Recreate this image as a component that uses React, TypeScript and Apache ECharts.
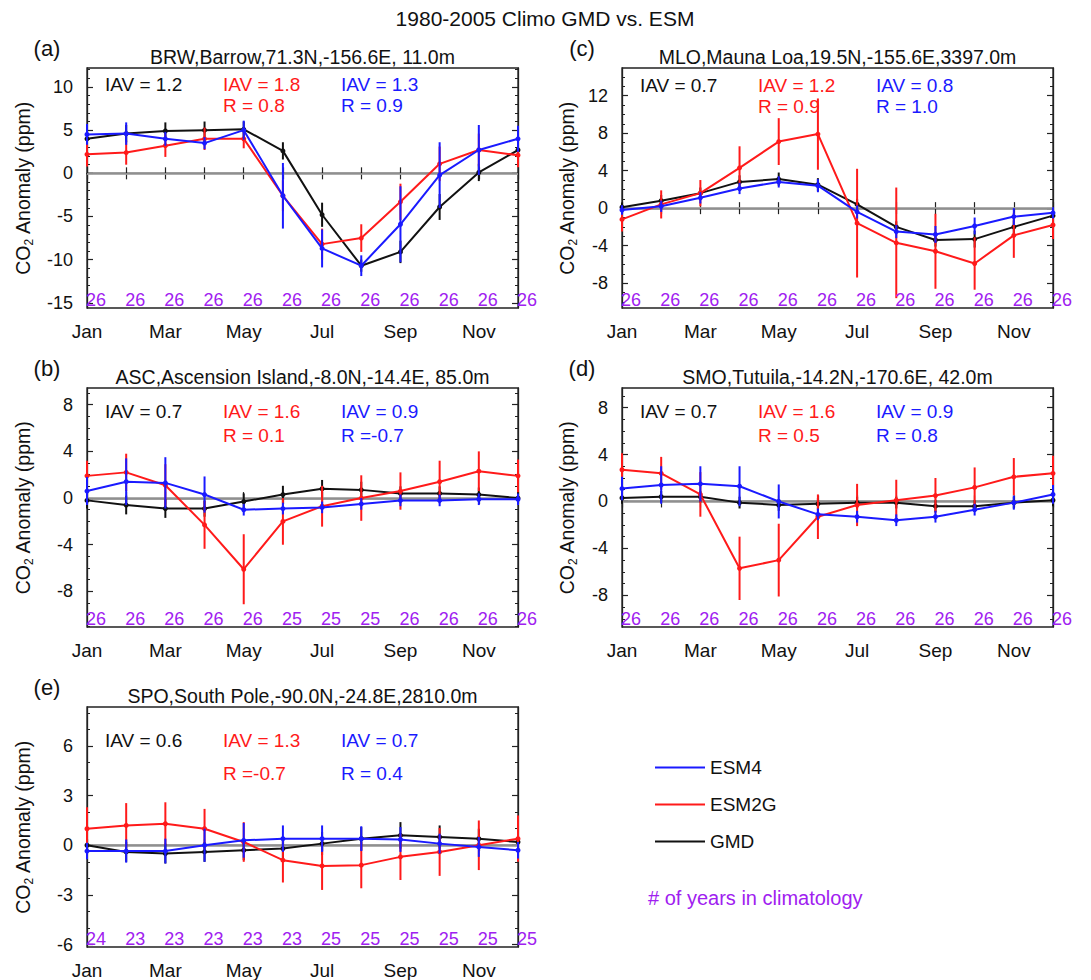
import React, { useEffect, useRef } from "react";
import * as echarts from "echarts";

// ---------- DATA ----------
const months = ["Jan", "Feb", "Mar", "Apr", "May", "Jun", "Jul", "Aug", "Sep", "Oct", "Nov", "Dec"];

// (a) BRW
const brwGMD = [4.0, 4.6, 4.9, 5.0, 5.1, 2.6, -4.8, -10.7, -9.1, -3.9, 0.1, 2.7];
const brwGMDErr = [0.8, 1.0, 1.0, 1.0, 0.9, 1.0, 1.4, 0.7, 1.3, 1.5, 1.0, 0.8];
const brwESM2G = [2.2, 2.4, 3.2, 4.0, 4.0, -2.6, -8.2, -7.5, -3.3, 1.1, 2.7, 2.1];
const brwESM2GErr = [1.4, 1.4, 1.3, 1.3, 1.1, 1.8, 1.8, 1.6, 2.1, 2.0, 1.9, 1.4];
const brwESM4 = [4.5, 4.6, 4.0, 3.5, 5.0, -2.6, -8.7, -10.7, -5.9, -0.2, 2.7, 4.0];
const brwESM4Err = [1.2, 1.3, 0.8, 0.7, 1.1, 3.8, 2.2, 1.2, 4.4, 3.8, 2.9, 1.5];
const brwYears = [26, 26, 26, 26, 26, 26, 26, 26, 26, 26, 26, 26];

// (c) MLO
const mloGMD = [0.1, 0.8, 1.6, 2.8, 3.1, 2.5, 0.4, -2.0, -3.4, -3.3, -2.0, -0.8];
const mloGMDErr = [0.5, 0.6, 0.6, 0.7, 0.7, 0.7, 0.6, 0.6, 0.7, 0.9, 0.7, 0.6];
const mloESM2G = [-1.2, 0.4, 1.6, 4.3, 7.1, 7.9, -1.6, -3.7, -4.6, -5.9, -2.9, -1.8];
const mloESM2GErr = [1.3, 1.5, 1.4, 2.3, 2.5, 3.8, 5.8, 5.9, 4.0, 2.8, 2.4, 1.5];
const mloESM4 = [-0.2, 0.2, 1.1, 2.1, 2.8, 2.4, -0.4, -2.5, -2.8, -1.9, -0.9, -0.5];
const mloESM4Err = [0.5, 0.6, 0.6, 0.6, 0.6, 0.7, 0.7, 0.7, 0.9, 0.9, 0.9, 0.6];
const mloYears = [26, 26, 26, 26, 26, 26, 26, 26, 26, 26, 26, 26];

// (b) ASC
const ascGMD = [-0.2, -0.6, -0.9, -0.9, -0.3, 0.3, 0.8, 0.7, 0.4, 0.4, 0.3, 0.0];
const ascGMDErr = [0.7, 0.8, 0.8, 0.7, 0.7, 0.75, 0.75, 0.7, 0.6, 0.6, 0.6, 0.6];
const ascESM2G = [1.9, 2.2, 1.1, -2.3, -6.1, -2.0, -0.7, 0.0, 0.6, 1.4, 2.3, 1.9];
const ascESM2GErr = [1.3, 1.6, 1.8, 2.05, 3.0, 2.0, 1.75, 1.95, 1.6, 1.8, 1.7, 1.4];
const ascESM4 = [0.6, 1.4, 1.3, 0.3, -1.0, -0.9, -0.8, -0.5, -0.2, -0.2, -0.1, -0.1];
const ascESM4Err = [1.2, 2.0, 2.2, 1.55, 0.5, 0.5, 0.5, 0.5, 0.5, 0.5, 0.5, 0.5];
const ascYears = [26, 26, 26, 26, 26, 25, 25, 25, 26, 26, 26, 26];

// (d) SMO
const smoGMD = [0.3, 0.4, 0.4, -0.1, -0.3, -0.2, -0.1, -0.1, -0.4, -0.4, -0.1, 0.1];
const smoGMDErr = [0.5, 0.5, 0.5, 0.5, 0.5, 0.5, 0.5, 0.5, 0.5, 0.5, 0.5, 0.5];
const smoESM2G = [2.7, 2.4, 0.6, -5.7, -5.0, -1.3, -0.3, 0.1, 0.5, 1.2, 2.1, 2.4];
const smoESM2GErr = [1.4, 1.4, 1.9, 2.7, 3.1, 1.9, 1.8, 1.75, 1.5, 1.7, 1.6, 1.5];
const smoESM4 = [1.1, 1.4, 1.5, 1.3, 0.0, -1.1, -1.3, -1.6, -1.3, -0.7, -0.1, 0.6];
const smoESM4Err = [1.0, 1.6, 1.5, 1.7, 1.45, 0.5, 0.5, 0.5, 0.5, 0.5, 0.6, 0.8];
const smoYears = [26, 26, 26, 26, 26, 26, 26, 26, 26, 26, 26, 26];

// (e) SPO
const spoGMD = [0.0, -0.4, -0.5, -0.4, -0.3, -0.2, 0.1, 0.4, 0.6, 0.5, 0.4, 0.2];
const spoGMDErr = [0.6, 0.6, 0.6, 0.6, 0.6, 0.7, 0.7, 0.7, 0.8, 0.7, 0.6, 0.6];
const spoESM2G = [1.0, 1.2, 1.3, 1.0, 0.2, -0.9, -1.25, -1.2, -0.7, -0.4, 0.0, 0.4];
const spoESM2GErr = [1.3, 1.35, 1.3, 1.2, 1.2, 1.35, 1.45, 1.4, 1.4, 1.45, 1.5, 1.4];
const spoESM4 = [-0.35, -0.35, -0.35, 0.0, 0.3, 0.4, 0.4, 0.4, 0.35, 0.1, -0.1, -0.3];
const spoESM4Err = [0.5, 0.7, 0.75, 1.0, 1.05, 0.8, 0.8, 0.75, 0.75, 0.6, 0.6, 0.5];
const spoYears = [24, 23, 23, 23, 23, 23, 25, 25, 25, 25, 25, 25];

// statistics: [GMD IAV, ESM2G IAV, ESM4 IAV], [ESM2G R, ESM4 R]
const brwIAV = [1.2, 1.8, 1.3];
const brwR = [0.8, 0.9];
const mloIAV = [0.7, 1.2, 0.8];
const mloR = [0.9, 1.0];
const ascIAV = [0.7, 1.6, 0.9];
const ascR = [0.1, -0.7];
const smoIAV = [0.7, 1.6, 0.9];
const smoR = [0.5, 0.8];
const spoIAV = [0.6, 1.3, 0.7];
const spoR = [-0.7, 0.4];

const models = ["ESM4", "ESM2G", "GMD"];

// ---------- STYLE / LAYOUT ----------
const FONT = '"Liberation Sans", Arial, Helvetica, sans-serif';
const BLUE = "#1a1aff";
const RED = "#ff1a1a";
const BLACK = "#111111";
const PURPLE = "#a020f0";

const panels = [
  {
    letter: "(a)", title: "BRW,Barrow,71.3N,-156.6E, 11.0m",
    left: 87, top: 68, width: 431, height: 240, yMin: -15.6, yMax: 12.2,
    major: [-15, -10, -5, 0, 5, 10], nameGap: 52, statY: [16.5, 37.5],
    gmd: brwGMD, gmdErr: brwGMDErr, esm2g: brwESM2G, esm2gErr: brwESM2GErr, esm4: brwESM4, esm4Err: brwESM4Err,
    years: brwYears, iav: brwIAV, r: brwR,
  },
  {
    letter: "(c)", title: "MLO,Mauna Loa,19.5N,-155.6E,3397.0m",
    left: 622, top: 68, width: 431, height: 240, yMin: -10.65, yMax: 14.95,
    major: [-8, -4, 0, 4, 8, 12], nameGap: 43, statY: [17.5, 38.5],
    gmd: mloGMD, gmdErr: mloGMDErr, esm2g: mloESM2G, esm2gErr: mloESM2GErr, esm4: mloESM4, esm4Err: mloESM4Err,
    years: mloYears, iav: mloIAV, r: mloR,
  },
  {
    letter: "(b)", title: "ASC,Ascension Island,-8.0N,-14.4E, 85.0m",
    left: 87, top: 388, width: 431, height: 239, yMin: -11.05, yMax: 9.43,
    major: [-8, -4, 0, 4, 8], nameGap: 52, statY: [23.5, 47],
    gmd: ascGMD, gmdErr: ascGMDErr, esm2g: ascESM2G, esm2gErr: ascESM2GErr, esm4: ascESM4, esm4Err: ascESM4Err,
    years: ascYears, iav: ascIAV, r: ascR,
  },
  {
    letter: "(d)", title: "SMO,Tutuila,-14.2N,-170.6E, 42.0m",
    left: 622, top: 388, width: 431, height: 239, yMin: -10.7, yMax: 9.67,
    major: [-8, -4, 0, 4, 8], nameGap: 43, statY: [23.5, 47],
    gmd: smoGMD, gmdErr: smoGMDErr, esm2g: smoESM2G, esm2gErr: smoESM2GErr, esm4: smoESM4, esm4Err: smoESM4Err,
    years: smoYears, iav: smoIAV, r: smoR,
  },
  {
    letter: "(e)", title: "SPO,South Pole,-90.0N,-24.8E,2810.0m",
    left: 87, top: 707, width: 431, height: 240, yMin: -6.15, yMax: 8.36,
    major: [-6, -3, 0, 3, 6], nameGap: 52, statY: [33, 66.5],
    gmd: spoGMD, gmdErr: spoGMDErr, esm2g: spoESM2G, esm2gErr: spoESM2GErr, esm4: spoESM4, esm4Err: spoESM4Err,
    years: spoYears, iav: spoIAV, r: spoR,
  },
];

function minorTicks(lo: number, hi: number) {
  const out: number[] = [];
  for (let v = Math.ceil(lo); v <= Math.floor(hi); v++) out.push(v);
  return out;
}

const fmtIAV = (v: number) => `IAV = ${v.toFixed(1)}`;
const fmtR = (v: number) => (v < 0 ? `R =${v.toFixed(1)}` : `R = ${v.toFixed(1)}`);

function txt(x: number, y: number, text: string, size: number, color: string, align = "center", extra: any = {}) {
  return {
    type: "text", x, y,
    style: {
      text, font: `${size}px ${FONT}`, fill: color,
      align, verticalAlign: "middle", textAlign: align, textVerticalAlign: "middle", ...extra,
    },
  };
}

function buildOption() {
  const grid: any[] = [];
  const xAxis: any[] = [];
  const yAxis: any[] = [];
  const series: any[] = [];
  const graphic: any[] = [];

  graphic.push(txt(545, 18, "1980-2005 Climo GMD vs. ESM", 21, "#111"));

  panels.forEach((p, i) => {
    grid.push({ left: p.left, top: p.top, width: p.width, height: p.height, show: true, borderColor: "#222", borderWidth: 1.3, backgroundColor: "transparent" });
    const xBase = {
      type: "value", gridIndex: i, min: 1, max: 12, interval: 1,
      axisLine: { show: true, lineStyle: { color: "#222", width: 1.3 } },
      axisTick: { show: true, inside: true, length: 6, lineStyle: { color: "#222", width: 1.2 } },
      splitLine: { show: false },
    };
    xAxis.push({
      ...xBase, position: "bottom",
      axisLabel: {
        show: true, margin: 14, color: "#111", fontSize: 19, fontFamily: FONT,
        formatter: (v: number) => (Math.round(v) % 2 === 1 ? months[Math.round(v) - 1] : ""),
      },
    });
    xAxis.push({ ...xBase, position: "top", axisLabel: { show: false } });

    const minors = minorTicks(p.yMin, p.yMax);
    const yBase = { type: "value", gridIndex: i, min: p.yMin, max: p.yMax, splitLine: { show: false } };
    yAxis.push({
      ...yBase, position: "left",
      axisLine: { show: true, lineStyle: { color: "#222", width: 1.3 } },
      axisTick: { show: true, inside: true, length: 6, customValues: p.major, lineStyle: { color: "#222", width: 1.2 } },
      axisLabel: { show: true, customValues: p.major, margin: 14, color: "#111", fontSize: 18, fontFamily: FONT },
      name: "{a|CO}{s|2}{a| Anomaly (ppm)}",
      nameLocation: "middle", nameGap: p.nameGap, nameRotate: 90,
      nameTextStyle: {
        rich: {
          a: { fontSize: 19.5, fontFamily: FONT, color: "#111", lineHeight: 24, verticalAlign: "middle" },
          s: { fontSize: 12, fontFamily: FONT, color: "#111", lineHeight: 12, verticalAlign: "bottom" },
        },
      },
    });
    yAxis.push({
      ...yBase, position: "left", axisLine: { show: false },
      axisTick: { show: true, inside: true, length: 3, customValues: minors, lineStyle: { color: "#222", width: 1 } },
      axisLabel: { show: false },
    });
    yAxis.push({
      ...yBase, position: "right", axisLine: { show: true, lineStyle: { color: "#222", width: 1.3 } },
      axisTick: { show: true, inside: true, length: 6, customValues: p.major, lineStyle: { color: "#222", width: 1.2 } },
      axisLabel: { show: false },
    });
    yAxis.push({
      ...yBase, position: "right", axisLine: { show: false },
      axisTick: { show: true, inside: true, length: 3, customValues: minors, lineStyle: { color: "#222", width: 1 } },
      axisLabel: { show: false },
    });

    const xi = 2 * i;
    const yi = 4 * i;
    const sets = [
      { name: "GMD", color: BLACK, vals: p.gmd, errs: p.gmdErr, z: 3 },
      { name: "ESM2G", color: RED, vals: p.esm2g, errs: p.esm2gErr, z: 4 },
      { name: "ESM4", color: BLUE, vals: p.esm4, errs: p.esm4Err, z: 5 },
    ];
    sets.forEach((s, k) => {
      series.push({
        type: "custom", xAxisIndex: xi, yAxisIndex: yi, z: s.z, clip: false, silent: true,
        data: s.vals.map((v, m) => [m + 1, v - s.errs[m], v + s.errs[m]]),
        encode: { x: 0, y: [1, 2] },
        renderItem: (params: any, api: any) => {
          const a = api.coord([api.value(0), api.value(1)]);
          const b = api.coord([api.value(0), api.value(2)]);
          return { type: "line", shape: { x1: a[0], y1: a[1], x2: b[0], y2: b[1] }, style: { stroke: s.color, lineWidth: 2 } };
        },
      });
      const line: any = {
        type: "line", name: s.name, xAxisIndex: xi, yAxisIndex: yi, z: s.z, silent: true,
        data: s.vals.map((v, m) => [m + 1, v]),
        symbol: "circle", symbolSize: 5, showSymbol: true,
        lineStyle: { color: s.color, width: 2 }, itemStyle: { color: s.color },
      };
      if (k === 0) {
        line.markLine = {
          silent: true, symbol: "none", label: { show: false }, z: 1,
          lineStyle: { color: "#b4b4b4", width: 1.5, type: "solid" },
          data: [{ yAxis: 0 }],
        };
      }
      series.push(line);
    });

    // number of years in climatology
    series.push({
      type: "custom", xAxisIndex: xi, yAxisIndex: yi, z: 6, clip: false, silent: true,
      data: p.years.map((n, m) => [m + 1, n]),
      encode: { x: 0 },
      renderItem: (params: any, api: any) => {
        const c = api.coord([api.value(0), p.yMin]);
        return {
          type: "text", x: c[0] - 1, y: c[1] + 1,
          style: {
            text: String(api.value(1)), fill: PURPLE, font: `18px ${FONT}`,
            align: "left", verticalAlign: "bottom", textAlign: "left", textVerticalAlign: "bottom",
          },
        };
      },
    });

    // titles, letters, statistics
    graphic.push(txt(p.left + p.width / 2, p.top - 11, p.title, 19.5, "#111"));
    graphic.push(txt(p.left - 40, p.top - 20, p.letter, 22, "#111"));
    graphic.push(txt(p.left + 18, p.top + p.statY[0], fmtIAV(p.iav[0]), 19, BLACK, "left"));
    const cols = [
      { dx: 136, color: RED, iav: p.iav[1], r: p.r[0] },
      { dx: 254, color: BLUE, iav: p.iav[2], r: p.r[1] },
    ];
    cols.forEach((c) => {
      graphic.push(txt(p.left + c.dx, p.top + p.statY[0], fmtIAV(c.iav), 19, c.color, "left"));
      graphic.push(txt(p.left + c.dx, p.top + p.statY[1], fmtR(c.r), 19, c.color, "left"));
    });
  });

  graphic.push(txt(648, 898, "# of years in climatology", 20, PURPLE, "left"));

  return {
    animation: false,
    backgroundColor: "#ffffff",
    textStyle: { fontFamily: FONT },
    grid, xAxis, yAxis, series, graphic,
    legend: {
      orient: "vertical", left: 655, top: 758, padding: 0, itemWidth: 50, itemHeight: 2, itemGap: 18,
      icon: "rect", selectedMode: false,
      textStyle: { fontSize: 19, color: "#111", fontFamily: FONT },
      data: models,
    },
  };
}

export default function App() {
  const ref = useRef<HTMLDivElement>(null);
  useEffect(() => {
    if (!ref.current) return;
    const chart = echarts.init(ref.current, null, { renderer: "svg" });
    chart.setOption(buildOption() as any);
    return () => chart.dispose();
  }, []);
  return (
    <div
      ref={ref}
      style={{ position: "fixed", left: 0, top: 0, width: 1091, height: 980, background: "#fff" }}
    />
  );
}
